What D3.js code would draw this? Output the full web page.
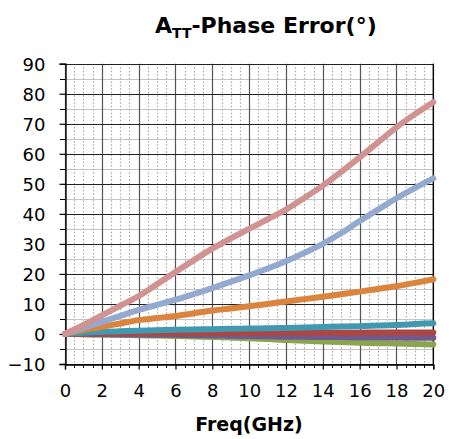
<!DOCTYPE html>
<html><head><meta charset="utf-8">
<script src="https://cdn.jsdelivr.net/npm/d3@7"></script>
<style>body{margin:0;background:#fff}svg{display:block}</style>
</head><body>
<svg id="c" width="449" height="439"></svg>
<script>
const freq = [0,1,2,3,4,5,6,7,8,9,10,11,12,13,14,15,16,17,18,19,20];
const pink   = [0,3,6.2,9.4,12.6,16.6,20.6,24.6,28.4,31.8,35,38.2,41.4,45.3,49.4,54,58.8,63.8,68.8,73.2,77.2];
const blue   = [0,2,4,6,8,9.7,11.4,13.3,15.3,17.4,19.5,21.8,24.2,27,30,33.6,37.6,41.4,45.2,48.6,51.8];
const orange = [0,1.3,2.4,3.5,4.6,5.3,6,6.9,7.8,8.5,9.2,10,10.8,11.6,12.4,13.2,14.1,15,15.9,17,18.2];
const teal   = [0,0.4,0.7,0.9,1.1,1.25,1.4,1.5,1.6,1.7,1.8,1.9,2.0,2.15,2.3,2.45,2.6,2.8,3.0,3.3,3.6];
const red    = [0,0.05,0.1,0.15,0.2,0.22,0.25,0.28,0.3,0.32,0.35,0.37,0.4,0.4,0.4,0.42,0.44,0.46,0.48,0.5,0.5];
const purple = [0,-0.05,-0.1,-0.15,-0.2,-0.25,-0.3,-0.4,-0.5,-0.6,-0.7,-0.8,-0.9,-0.95,-1.0,-1.05,-1.1,-1.15,-1.2,-1.25,-1.3];
const green  = [0,-0.1,-0.2,-0.3,-0.4,-0.55,-0.7,-0.85,-1.0,-1.2,-1.4,-1.7,-2.0,-2.25,-2.5,-2.7,-2.9,-3.05,-3.2,-3.35,-3.5];
const xTicks = [0,2,4,6,8,10,12,14,16,18,20];
const yTicks = [-10,0,10,20,30,40,50,60,70,80,90];

// draw order: bottom first
const series = [
  {v: green,  c: "#89A54E"},
  {v: purple, c: "#71588F"},
  {v: red,    c: "#AA4643"},
  {v: teal,   c: "#4198AF"},
  {v: orange, c: "#DB843D"},
  {v: blue,   c: "#93A9CF"},
  {v: pink,   c: "#D19392"}
];

const svg = d3.select("#c");
const L = 65, R = 433.3, T = 63.7, B = 364;
const x = d3.scaleLinear().domain([0,20]).range([L,R]);
const y = d3.scaleLinear().domain([-10,90]).range([B,T]);

const g = svg.append("g");
// minor vertical dotted
const minorX = d3.range(0, 20.001, 0.5).filter(v => Math.abs(v/2 - Math.round(v/2)) > 1e-6);
g.selectAll(".mx").data(minorX).join("line")
  .attr("x1", d=>Math.round(x(d))+0.5).attr("x2", d=>Math.round(x(d))+0.5)
  .attr("y1", T).attr("y2", B)
  .attr("stroke", "#a8a8a8").attr("stroke-width", 1.2).attr("stroke-dasharray", "1.5,2");
// minor horizontal (every 5)
const minorY = d3.range(-5, 90, 10);
g.selectAll(".my").data(minorY).join("line")
  .attr("x1", L).attr("x2", R)
  .attr("y1", d=>Math.round(y(d))+0.5).attr("y2", d=>Math.round(y(d))+0.5)
  .attr("stroke", "#c4c4c4").attr("stroke-width", 1);
// major vertical
g.selectAll(".Mx").data(xTicks).join("line")
  .attr("x1", d=>Math.round(x(d))+0.5).attr("x2", d=>Math.round(x(d))+0.5)
  .attr("y1", T).attr("y2", B)
  .attr("stroke", "#555").attr("stroke-width", 1.2);
// major horizontal
g.selectAll(".My").data(yTicks).join("line")
  .attr("x1", L).attr("x2", R)
  .attr("y1", d=>Math.round(y(d))+0.5).attr("y2", d=>Math.round(y(d))+0.5)
  .attr("stroke", "#222").attr("stroke-width", 1.2);

// axes
const yAxis = d3.axisLeft(y).tickValues(yTicks).tickSize(6).tickFormat(d3.format("d"));
const ya = svg.append("g").attr("transform", `translate(${Math.round(L)+0.5},0)`).call(yAxis);
ya.select(".domain").attr("stroke", "#000").attr("stroke-width", 1.3);
ya.selectAll(".tick line").attr("stroke", "#000").attr("stroke-width", 1.2);
ya.selectAll(".tick text").attr("font-family", "DejaVu Sans").attr("font-size", 18).attr("fill", "#000")
  .attr("x", -20).attr("dy", "0.36em");
// y minor ticks
svg.selectAll(".ymt").data(minorY).join("line")
  .attr("x1", L-5).attr("x2", L).attr("y1", d=>Math.round(y(d))+0.5).attr("y2", d=>Math.round(y(d))+0.5)
  .attr("stroke", "#000").attr("stroke-width", 1);

const xAxis = d3.axisBottom(x).tickValues(xTicks).tickSize(5).tickFormat(d3.format("d"));
const xa = svg.append("g").attr("transform", `translate(0,${Math.round(B)+0.5})`).call(xAxis);
xa.select(".domain").attr("stroke", "#000").attr("stroke-width", 1.3);
xa.selectAll(".tick line").attr("stroke", "#000").attr("stroke-width", 1.2);
xa.selectAll(".tick text").attr("font-family", "DejaVu Sans").attr("font-size", 18).attr("fill", "#000")
  .attr("y", 20).attr("dy", "0.71em");
svg.selectAll(".xmt").data(minorX).join("line")
  .attr("x1", d=>Math.round(x(d))+0.5).attr("x2", d=>Math.round(x(d))+0.5)
  .attr("y1", B).attr("y2", B+4)
  .attr("stroke", "#000").attr("stroke-width", 1);

// right border
svg.append("line").attr("x1", R).attr("x2", R).attr("y1", T).attr("y2", B).attr("stroke", "#000").attr("stroke-width", 1.3);

// series
const line = d3.line().x((d,i)=>x(freq[i])).y(d=>y(d)).curve(d3.curveMonotoneX);
svg.selectAll(".s").data(series).join("path")
  .attr("d", d=>line(d.v)).attr("fill", "none").attr("stroke", d=>d.c)
  .attr("stroke-width", 6).attr("stroke-linecap", "round").attr("stroke-linejoin", "round");

// title
const t = svg.append("text").attr("x", 155).attr("y", 33)
  .attr("font-family", "DejaVu Sans").attr("font-weight", "bold").attr("font-size", 22).attr("fill", "#000");
t.append("tspan").text("A");
t.append("tspan").attr("font-size", 14).attr("dy", 5).text("TT");
t.append("tspan").attr("dy", -5).text("-Phase Error(°)");

svg.append("text").attr("x", 249).attr("y", 431).attr("text-anchor", "middle")
  .attr("font-family", "DejaVu Sans").attr("font-weight", "bold").attr("font-size", 19).attr("fill", "#000")
  .text("Freq(GHz)");
</script>
</body></html>
